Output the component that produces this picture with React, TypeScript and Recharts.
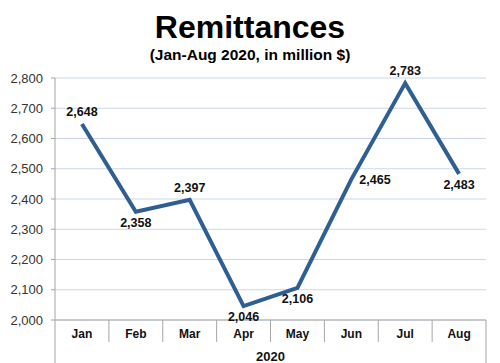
import React from 'react';
import { LineChart, Line, XAxis, YAxis, CartesianGrid, LabelList } from 'recharts';

const months = ['Jan', 'Feb', 'Mar', 'Apr', 'May', 'Jun', 'Jul', 'Aug'];
const remittances = [2648, 2358, 2397, 2046, 2106, 2465, 2783, 2483];
const yTicks = [2000, 2100, 2200, 2300, 2400, 2500, 2600, 2700, 2800];
const yearLabel = '2020';
const title = 'Remittances';
const subtitle = '(Jan-Aug 2020, in million $)';

const data = months.map((m, i) => ({ month: m, value: remittances[i] }));

// label placement per point (style, not data)
const placement = ['top', 'bottom', 'top', 'bottom', 'bottom', 'right', 'top', 'bottom'];

const W = 500;
const H = 363;
const M = { top: 78, right: 14, bottom: 0, left: 0 };
const Y_AXIS_W = 55;
const X_AXIS_H = 43;
const PLOT_W = W - M.left - M.right - Y_AXIS_W;
const BAND = PLOT_W / months.length;
const FONT = '"Liberation Sans", Arial, sans-serif';

const fmt = (v: number) => v.toLocaleString('en-US');

const MonthTick = (props: any) => {
  const { x, y, payload, index } = props;
  const half = BAND / 2;
  return (
    <g>
      <text x={x} y={y + 18} textAnchor="middle" fontFamily={FONT} fontWeight="bold" fontSize={12} fill="#111">
        {payload.value}
      </text>
      {index > 0 && <line x1={x - half} x2={x - half} y1={y} y2={y + 22} stroke="#a6a6a6" strokeWidth={1} />}
      {index === 0 && <line x1={x - half} x2={x - half} y1={y} y2={y + X_AXIS_H} stroke="#a6a6a6" strokeWidth={1} />}
      {index === months.length - 1 && (
        <line x1={x + half} x2={x + half} y1={y} y2={y + X_AXIS_H} stroke="#a6a6a6" strokeWidth={1} />
      )}
    </g>
  );
};

const ValueLabel = (props: any) => {
  const { x, y, value, index } = props;
  const p = placement[index];
  let tx = x;
  let ty = y;
  let anchor: any = 'middle';
  if (p === 'top') ty = y - 8;
  else if (p === 'bottom') ty = y + 15;
  else if (p === 'right') {
    tx = x + 8;
    ty = y + 5;
    anchor = 'start';
  }
  return (
    <text x={tx} y={ty} textAnchor={anchor} fontFamily={FONT} fontWeight="bold" fontSize={12.5} fill="#111">
      {fmt(value)}
    </text>
  );
};

export default function App() {
  return (
    <div style={{ position: 'absolute', left: 0, top: 0, width: W, height: H, background: '#fff' }}>
      <div
        style={{
          position: 'absolute', left: 0, top: 11, width: W, textAlign: 'center',
          fontFamily: FONT, fontWeight: 'bold', fontSize: 32, lineHeight: '32px', color: '#000',
        }}
      >
        {title}
      </div>
      <div
        style={{
          position: 'absolute', left: 0, top: 47, width: W, textAlign: 'center',
          fontFamily: FONT, fontWeight: 'bold', fontSize: 15.5, lineHeight: '15px', color: '#000',
        }}
      >
        {subtitle}
      </div>
      <div style={{ position: 'absolute', left: 0, top: 0 }}>
        <LineChart width={W} height={H} data={data} margin={M}>
          <CartesianGrid horizontal vertical={false} stroke="#cbd7e8" strokeWidth={1} />
          <XAxis
            dataKey="month"
            scale="band"
            height={X_AXIS_H}
            tickLine={false}
            tickSize={0}
            tickMargin={0}
            axisLine={{ stroke: '#a6a6a6' }}
            tick={<MonthTick />}
            interval={0}
            label={{
              value: yearLabel, position: 'insideBottom', offset: 2,
              style: { fontFamily: FONT, fontWeight: 'bold', fontSize: 13, fill: '#111' },
            }}
          />
          <YAxis
            width={Y_AXIS_W}
            domain={[2000, 2800]}
            ticks={yTicks}
            tickFormatter={fmt}
            axisLine={{ stroke: '#a6a6a6' }}
            tickLine={{ stroke: '#a6a6a6' }}
            tickSize={4}
            tickMargin={8}
            tick={{ fontFamily: FONT, fontSize: 13, fill: '#333' }}
            interval={0}
          />
          <Line
            type="linear"
            dataKey="value"
            stroke="#2e5e92"
            strokeWidth={4}
            dot={false}
            isAnimationActive={false}
          >
            <LabelList dataKey="value" content={<ValueLabel />} />
          </Line>
        </LineChart>
      </div>
    </div>
  );
}
